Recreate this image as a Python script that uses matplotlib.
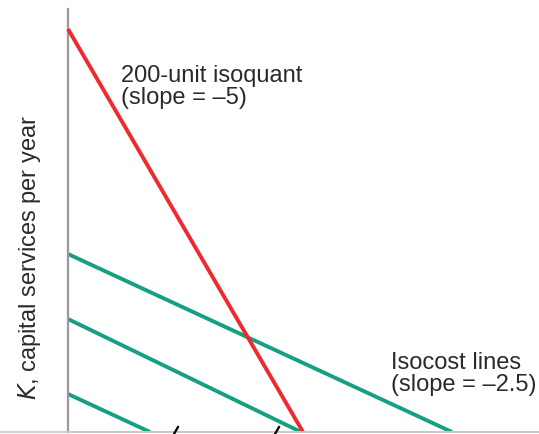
import matplotlib
matplotlib.use("Agg")
import matplotlib.pyplot as plt
from matplotlib.lines import Line2D
import numpy as np

plt.rcParams['font.family'] = ['Liberation Sans', 'DejaVu Sans']

# Data (arbitrary units)
isoquant_K_intercept = 100.75
isoquant_L_intercept = 58.75
isocost_K_intercepts = [44.5, 28.25, 9.5]
isocost_L_intercepts = [96.0, 58.25, 20.5]

W, H = 539, 435
fig = plt.figure(figsize=(W / 100, H / 100), dpi=100)
left, bottom, top = 68, 433, 10
ax = fig.add_axes([left / W, (H - bottom) / H, (W - left) / W, (bottom - top) / H])
ax.set_xlim(0, (W - left) / 4)
ax.set_ylim(0, (bottom - top) / 4)

red = '#EE2A2E'
green = '#16A083'

ax.plot([0, isoquant_L_intercept], [isoquant_K_intercept, 0], color=red, lw=2.8,
        solid_capstyle='butt', zorder=3, clip_on=False)
for k0, l0 in zip(isocost_K_intercepts, isocost_L_intercepts):
    ax.plot([0, l0], [k0, 0], color=green, lw=2.8, solid_capstyle='butt', zorder=2)

for s in ['top', 'right']:
    ax.spines[s].set_visible(False)
ax.spines['left'].set_color('#9a9a9a')
ax.spines['left'].set_linewidth(1.6)
ax.spines['bottom'].set_color('#c8c8c8')
ax.spines['bottom'].set_linewidth(1.2)
ax.set_xticks([])
ax.set_yticks([])

# full-width bottom rule
fig.add_artist(Line2D([0, 1], [(H - bottom) / H] * 2, color='#c8c8c8', lw=1.2))

txtc = '#2a2a2a'
fig.text(121 / W, 1 - 65 / H, "200-unit isoquant\n(slope = \u20135)", fontsize=17,
         color=txtc, va='top', ha='left', linespacing=1.0)
fig.text(391 / W, 1 - 352 / H, "Isocost lines\n(slope = \u20132.5)", fontsize=17,
         color=txtc, va='top', ha='left', linespacing=1.0)
fig.text(30 / W, 1 - 258 / H, r"$K$, capital services per year", fontsize=17,
         color=txtc, rotation=90, va='center', ha='center')

# partial marks cut by the bottom edge
for x0 in (174, 275):
    fig.add_artist(Line2D([x0 / W, (x0 + 4) / W], [1 - 435 / H, 1 - 428 / H],
                          color='black', lw=1.6))

fig.savefig("out.png", dpi=100)
